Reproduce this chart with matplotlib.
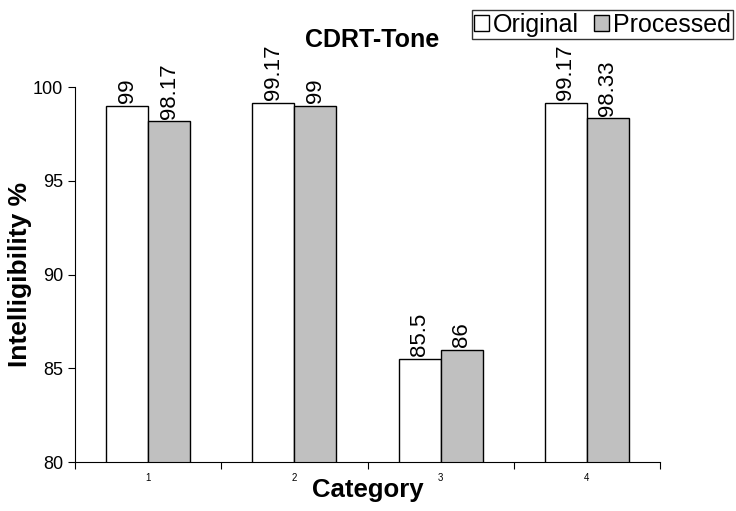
import numpy as np
import matplotlib.pyplot as plt
from matplotlib.patches import Patch

plt.rcParams['font.family'] = ['Liberation Sans', 'DejaVu Sans']

categories = ['1', '2', '3', '4']
original = [99, 99.17, 85.5, 99.17]
processed = [98.17, 99, 86, 98.33]
series_names = ['Original', 'Processed']

fig = plt.figure(figsize=(7.36, 5.11), dpi=100)
ax = fig.add_axes([75 / 736, 49 / 511, 585 / 736, 375 / 511])

x = np.arange(1, len(categories) + 1)
w = 0.287
ax.bar(x - w / 2, original, w, color='white', edgecolor='black', linewidth=1)
ax.bar(x + w / 2, processed, w, color='#c0c0c0', edgecolor='black', linewidth=1)

for xs, vals in ((x - w / 2, original), (x + w / 2, processed)):
    for xi, v in zip(xs, vals):
        ax.annotate('{:g}'.format(v), xy=(xi, v), xytext=(0, 2), textcoords='offset points',
                    rotation=90, ha='center', va='bottom', fontsize=16)

ax.set_ylim(80, 100)
ax.set_xlim(0.5, 4.5)
ax.set_yticks([80, 85, 90, 95, 100])
ax.tick_params(axis='y', labelsize=13, length=5, direction='out')

# ticks between categories, labels at the centers
ax.set_xticks([0.5, 1.5, 2.5, 3.5, 4.5])
ax.set_xticklabels([])
ax.tick_params(axis='x', which='major', length=5, direction='out')
ax.set_xticks(x, minor=True)
ax.set_xticklabels(categories, minor=True)
ax.tick_params(axis='x', which='minor', length=0, labelsize=7, pad=8)

for s in ['top', 'right']:
    ax.spines[s].set_visible(False)

ax.set_xlabel('Category', fontsize=18.5, fontweight='bold', labelpad=-4)
ax.set_ylabel('Intelligibility %', fontsize=19, fontweight='bold', labelpad=1)
fig.text(372 / 736, 1 - 40 / 511, 'CDRT-Tone', fontsize=18, fontweight='bold',
         ha='center', va='center')

handles = [Patch(facecolor='white', edgecolor='black'),
           Patch(facecolor='#c0c0c0', edgecolor='black')]
leg = fig.legend(handles, series_names, loc='upper right', bbox_to_anchor=(0.996, 0.98),
                 ncol=2, fontsize=18, frameon=True, fancybox=False, borderpad=0.1,
                 handlelength=0.6, handleheight=0.6, handletextpad=0.15,
                 columnspacing=0.6, borderaxespad=0)
leg.get_frame().set_edgecolor('black')
leg.get_frame().set_linewidth(1)

fig.savefig('out.png', dpi=100)
